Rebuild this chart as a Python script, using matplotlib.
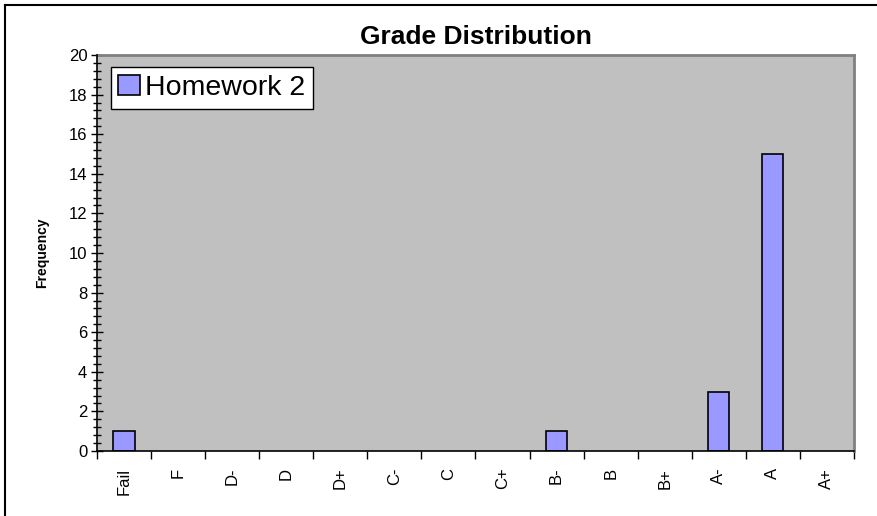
import numpy as np
import matplotlib
matplotlib.use("Agg")
import matplotlib.pyplot as plt
from matplotlib.lines import Line2D
from matplotlib.ticker import MultipleLocator

plt.rcParams['font.family'] = ['Liberation Sans', 'DejaVu Sans']

# data
grades = ["Fail", "F", "D-", "D", "D+", "C-", "C", "C+", "B-", "B", "B+", "A-", "A", "A+"]
homework2 = [1, 0, 0, 0, 0, 0, 0, 0, 1, 0, 0, 3, 15, 0]
series_name = "Homework 2"

fig = plt.figure(figsize=(8.78, 5.16), dpi=100)
ax = fig.add_axes([97 / 878, 65 / 516, 757 / 878, 396 / 516])
ax.set_facecolor("#C0C0C0")

x = np.arange(len(grades))
bars = ax.bar(x, homework2, width=0.39, color="#9999FF", edgecolor="black",
              linewidth=1.2, label=series_name, zorder=3)
# empty categories have no visible outline
for b, v in zip(bars, homework2):
    if v == 0:
        b.set_linewidth(0)

ax.set_xlim(-0.5, len(grades) - 0.5)
ax.set_ylim(0, 20)
ax.yaxis.set_major_locator(MultipleLocator(2))
ax.yaxis.set_minor_locator(MultipleLocator(0.4))
ax.tick_params(axis='y', which='major', direction='inout', length=8, width=1, labelsize=12, pad=3)
ax.tick_params(axis='y', which='minor', direction='inout', length=6, width=1)

# category labels at centres, ticks at boundaries
ax.set_xticks(x)
ax.set_xticklabels(grades, rotation=90, fontsize=12)
ax.tick_params(axis='x', which='major', length=0, pad=12)
ax.set_xticks(np.arange(len(grades) + 1) - 0.5, minor=True)
ax.tick_params(axis='x', which='minor', direction='out', length=6, width=1)

for s in ['left', 'bottom']:
    ax.spines[s].set_color("black")
    ax.spines[s].set_linewidth(1.2)
    ax.spines[s].set_zorder(4)
for s in ['top', 'right']:
    ax.spines[s].set_color("#808080")
    ax.spines[s].set_linewidth(2)

ax.set_ylabel("Frequency", fontsize=10, fontweight='bold', labelpad=14)
ax.set_title("Grade Distribution", fontsize=19, fontweight='bold', pad=8)

leg = ax.legend(loc='upper left', bbox_to_anchor=(0.018, 0.97), fontsize=20.5,
                frameon=True, fancybox=False, handlelength=0.75, handleheight=0.75,
                handletextpad=0.2, borderpad=0.27, borderaxespad=0)
leg.get_frame().set_edgecolor("black")
leg.get_frame().set_linewidth(1)
leg.get_frame().set_facecolor("white")
leg.get_frame().set_alpha(1)

# chart border (only left and top edges are visible in the image)
fig.lines.append(Line2D([5 / 878, 5 / 878], [0, 1 - 5 / 516], transform=fig.transFigure,
                        color="black", linewidth=1.5))
fig.lines.append(Line2D([5 / 878, 1], [1 - 5 / 516, 1 - 5 / 516], transform=fig.transFigure,
                        color="black", linewidth=1.5))

fig.savefig("out.png", dpi=100)
